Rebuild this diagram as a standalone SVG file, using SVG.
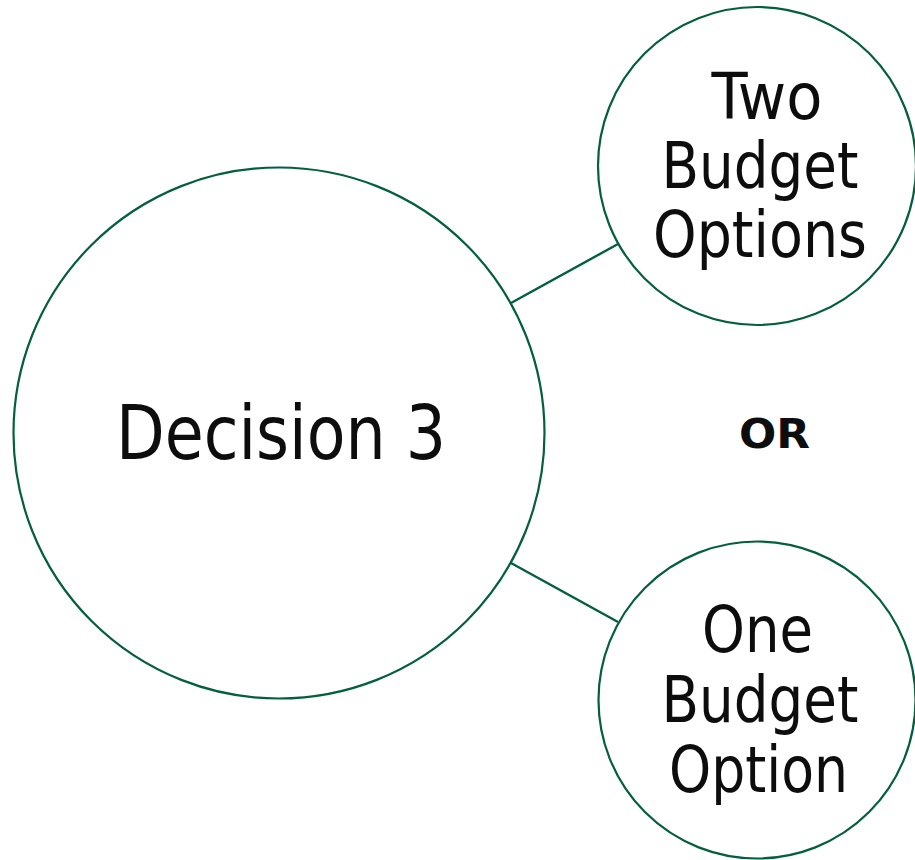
<svg xmlns="http://www.w3.org/2000/svg" width="915" height="860" viewBox="0 0 915 860">
  <style>
    .node { fill: #ffffff; stroke: #035f3e; stroke-width: 2.2; }
    .link { stroke: #035f3e; stroke-width: 2.4; fill: none; }
    .label { font-family: "DejaVu Sans", Verdana, sans-serif; fill: #0d0d0d; text-anchor: middle; }
    .or { font-family: "DejaVu Sans", Verdana, sans-serif; font-weight: bold; fill: #0d0d0d; text-anchor: middle; }
  </style>
  <rect width="915" height="860" fill="#ffffff"/>

  <!-- connectors -->
  <g id="connectors">
    <line class="link" x1="511" y1="303" x2="618" y2="244"/>
    <line class="link" x1="511" y1="563" x2="618" y2="622"/>
  </g>

  <!-- central decision -->
  <g id="decision-3">
    <circle class="node" cx="279" cy="433" r="265.5"/>
    <text class="label" x="281" y="459" font-size="75" textLength="330" lengthAdjust="spacingAndGlyphs">Decision 3</text>
  </g>

  <!-- upper branch -->
  <g id="two-budget-options">
    <circle class="node" cx="757" cy="166" r="159"/>
    <text class="label" x="767" y="119" font-size="64" textLength="111" lengthAdjust="spacingAndGlyphs">Two</text>
    <text class="label" x="760" y="188" font-size="64" textLength="197" lengthAdjust="spacingAndGlyphs">Budget</text>
    <text class="label" x="760" y="257" font-size="64" textLength="214" lengthAdjust="spacingAndGlyphs">Options</text>
  </g>

  <!-- lower branch -->
  <g id="one-budget-option">
    <circle class="node" cx="757" cy="700" r="158.5"/>
    <text class="label" x="757.5" y="652" font-size="64" textLength="111" lengthAdjust="spacingAndGlyphs">One</text>
    <text class="label" x="760" y="722" font-size="64" textLength="197" lengthAdjust="spacingAndGlyphs">Budget</text>
    <text class="label" x="758.5" y="792" font-size="64" textLength="179" lengthAdjust="spacingAndGlyphs">Option</text>
  </g>

  <text class="or" x="774.5" y="448" font-size="40" textLength="71" lengthAdjust="spacingAndGlyphs">OR</text>
</svg>
